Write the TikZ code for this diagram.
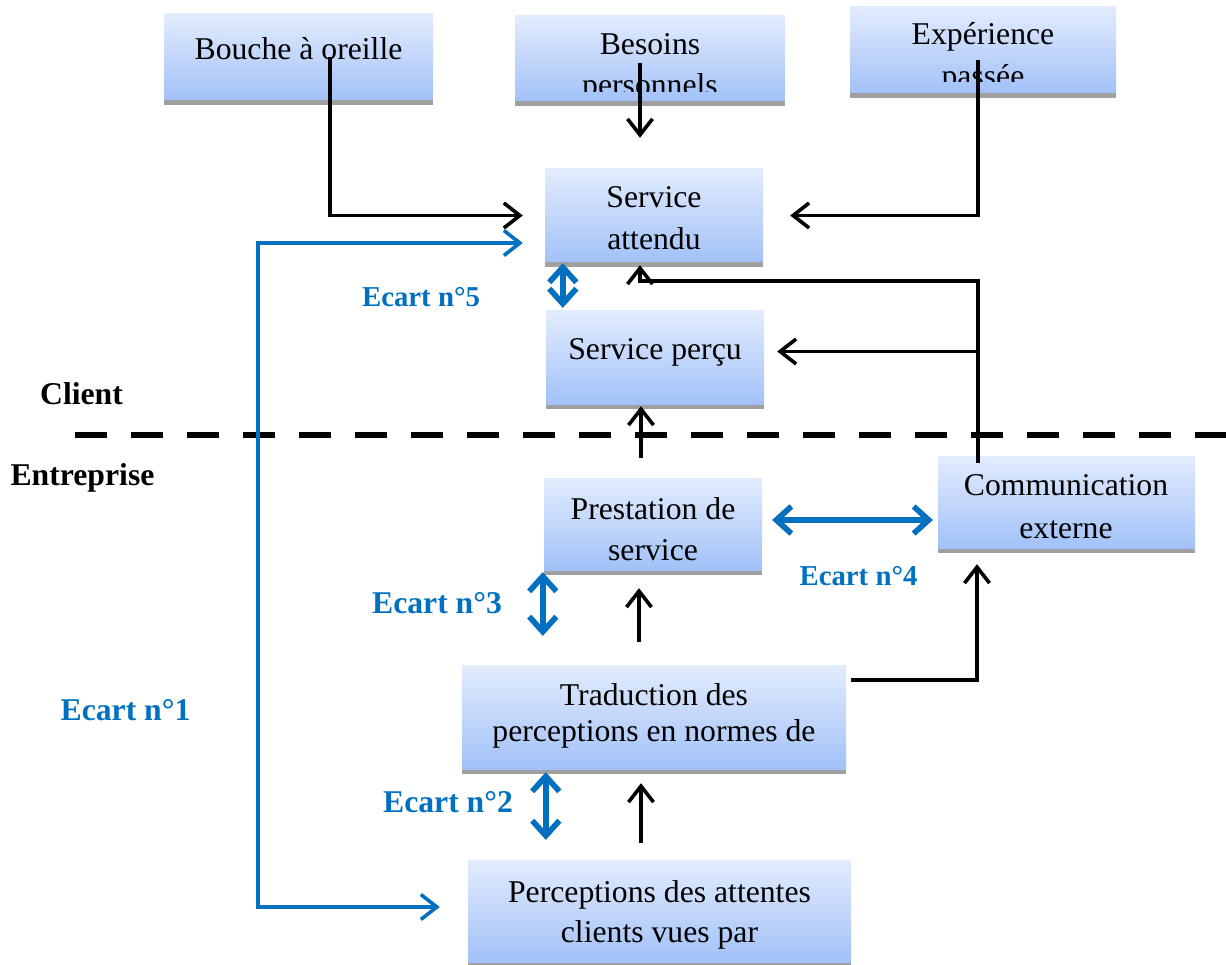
\documentclass[tikz,border=0pt]{standalone}
\usepackage{fontspec}
\setmainfont{Liberation Serif}
\usetikzlibrary{arrows.meta}

\definecolor{boxtop}{HTML}{E2ECFD}
\definecolor{boxbot}{HTML}{A2C1F8}
\definecolor{ecartblue}{HTML}{0070C0}
\definecolor{shadowgray}{HTML}{A0A0A0}

\tikzset{
  panel/.style={rectangle, inner sep=0pt, draw=none, top color=boxtop, bottom color=boxbot},
  boxtext/.style={anchor=base, inner sep=0pt, font=\fontsize{31.7pt}{38pt}\selectfont},
  sidelabel/.style={anchor=base, inner sep=0pt, font=\fontsize{31.7pt}{38pt}\selectfont\bfseries},
  ecartlabel/.style={sidelabel, text=ecartblue},
  smallecart/.style={ecartlabel, font=\fontsize{28.8pt}{34pt}\selectfont\bfseries},
  flow/.style={line width=3.6pt, line cap=butt, -{Straight Barb[length=16pt,width=25pt,line width=3.6pt]}},
  gapline/.style={line width=3.6pt, ecartblue,
    {Straight Barb[length=16pt,width=25pt,line width=3.6pt]}-{Straight Barb[length=16pt,width=25pt,line width=3.6pt]}},
  gapshadow/.style={line width=5.5pt, shadowgray,
    {Straight Barb[length=15pt,width=27pt,line width=5.5pt]}-{Straight Barb[length=15pt,width=27pt,line width=5.5pt]}},
  gaparrow/.style={line width=5.5pt, ecartblue,
    {Straight Barb[length=15pt,width=27pt,line width=5.5pt]}-{Straight Barb[length=15pt,width=27pt,line width=5.5pt]}},
  divider/.style={line width=6pt, dash pattern=on 32pt off 24pt},
}

% box with a grey strip under its lower edge: name, left, top, right, bottom
\newcommand{\panelbox}[5]{%
  \fill[shadowgray] (#2,#5) rectangle (#4,{#5+5});
  \node[panel, minimum width={#4-#2}, minimum height={#5-#3}] (#1) at ({(#2+#4)/2},{(#3+#5)/2}) {};
}

% two-way gap arrow with a grey drop shadow: start, end
\newcommand{\gapdraw}[2]{%
  \begin{scope}[shift={(2pt,-3pt)}]
    \draw[gapshadow] #1 -- #2;
  \end{scope}
  \draw[gaparrow] #1 -- #2;
}

\begin{document}
\begin{tikzpicture}[x=1pt, y=-1pt]
\useasboundingbox (0,0) rectangle (1226,965);

% boundary between client and company
\draw[divider] (75,435) -- (1226,435);

% boxes
\panelbox{bouche}{164}{14}{433}{100}
\panelbox{besoins}{515}{16}{785}{101}
\panelbox{experience}{850}{7}{1116}{93}
\panelbox{attendu}{545}{169}{763}{262}
\panelbox{percu}{546}{311}{764}{404}
\panelbox{prestation}{544}{478}{762}{570}
\panelbox{comm}{938}{456}{1195}{548}
\panelbox{traduction}{462}{665}{846}{769}
\panelbox{perceptions}{468}{860}{851}{962}

% box texts
\node[boxtext] (tbouche) at (298.5,60) {Bouche à oreille};
\begin{scope}
  \clip (515,16) rectangle (785,92);
  \node[boxtext] (tbesoinsA) at (650,55) {Besoins};
  \node[boxtext] (tbesoinsB) at (650,96) {personnels};
\end{scope}
\begin{scope}
  \clip (850,7) rectangle (1116,82);
  \node[boxtext] (texpA) at (983,45) {Expérience};
  \node[boxtext] (texpB) at (983,87) {passée};
\end{scope}
\node[boxtext] (tattenduA) at (654,208) {Service};
\node[boxtext] (tattenduB) at (654,250) {attendu};
\node[boxtext] (tpercu) at (655,360) {Service perçu};
\node[boxtext] (tprestA) at (653,519) {Prestation de};
\node[boxtext] (tprestB) at (653,560) {service};
\node[boxtext] (tcommA) at (1066,495) {Communication};
\node[boxtext] (tcommB) at (1066,538) {externe};
\node[boxtext] (ttradA) at (654,705) {Traduction des};
\node[boxtext] (ttradB) at (654,741) {perceptions en normes de};
\node[boxtext] (tpercA) at (659.5,902) {Perceptions des attentes};
\node[boxtext] (tpercB) at (659.5,942) {clients vues par};

% side labels
\node[sidelabel] (client) at (81.5,405) {Client};
\node[sidelabel] (entreprise) at (82.5,485) {Entreprise};
\node[smallecart] (e5) at (421,307) {Ecart n°5};
\node[ecartlabel] (e3) at (437,613) {Ecart n°3};
\node[smallecart] (e4) at (858.5,585) {Ecart n°4};
\node[ecartlabel] (e1) at (125.5,720) {Ecart n°1};
\node[ecartlabel] (e2) at (448,812) {Ecart n°2};

% anchor points of the connectors
\coordinate (attinL) at ([xshift=-22pt]attendu.west);
\coordinate (attinR) at ([xshift=27pt]attendu.east);
\coordinate (attinB) at ([xshift=-14pt,yshift=-3pt]attendu.south);
\coordinate (commout) at ([xshift=-88.5pt,yshift=-7pt]comm.north);
\coordinate (percin) at ([xshift=13pt,yshift=6pt]percu.east);
\coordinate (gapA) at ([xshift=-22pt,yshift=-27.5pt]attendu.west);
\coordinate (gapB) at ([xshift=-28pt,yshift=4pt]perceptions.west);

% black flows
\draw[flow] ([xshift=31.5pt]bouche.center) |- (attinL);
\draw[flow] ([xshift=-10pt,yshift=-4.5pt]besoins.center) -- ([xshift=-14pt,yshift=31pt]attendu.north);
\draw[flow] ([xshift=-5pt,yshift=-10pt]experience.center) |- (attinR);
\draw[flow] (commout) |- ([yshift=-16pt]attinB) -- (attinB);
\draw[flow] (commout |- percin) -- (percin);
\draw[flow] ([xshift=-12pt,yshift=20pt]prestation.north) -- ([xshift=-14pt,yshift=-2pt]percu.south);
\draw[flow] ([xshift=-15pt,yshift=23pt]traduction.north) -- ([xshift=-14pt,yshift=-18pt]prestation.south);
\draw[flow] ([xshift=-18.5pt,yshift=17pt]perceptions.north) -- ([xshift=-13pt,yshift=-14pt]traduction.south);
\draw[flow] ([xshift=5pt,yshift=37pt]traduction.east) -| ([xshift=-89.5pt,yshift=-16pt]comm.south);

% gaps
\draw[gapline] (gapA) -| ([xshift=-182pt]gapB) -- (gapB);
\gapdraw{([xshift=18pt,yshift=-1pt]attendu.south west)}{([xshift=17pt,yshift=3pt]percu.north west)}
\gapdraw{([xshift=-1pt,yshift=-2pt]prestation.south west)}{([xshift=81pt,yshift=29pt]traduction.north west)}
\gapdraw{([xshift=84pt,yshift=-3pt]traduction.south west)}{([xshift=78pt,yshift=20pt]perceptions.north west)}
\gapdraw{([xshift=10pt,yshift=4pt]prestation.east)}{([xshift=-5pt,yshift=-18pt]comm.west)}
\end{tikzpicture}
\end{document}
